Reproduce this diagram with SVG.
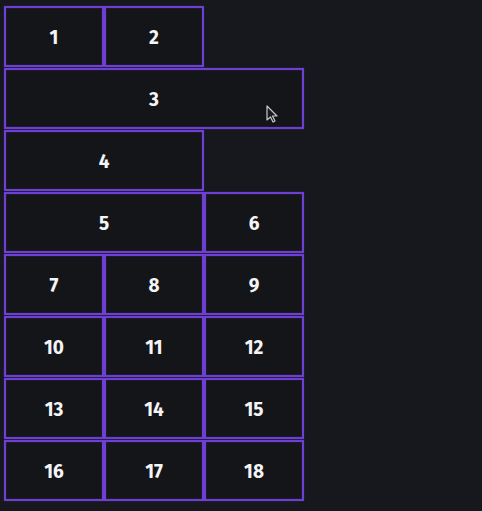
<svg xmlns="http://www.w3.org/2000/svg" width="482" height="511" viewBox="0 0 482 511">
<style>
.c rect{fill:#141519;stroke:#6d3fd2;stroke-width:2.2}
.c text{fill:#f4f4f6;font-family:"Fira Sans","Open Sans","DejaVu Sans",sans-serif;font-weight:700;font-size:19px;text-anchor:middle;dominant-baseline:central}
</style>
<rect width="482" height="511" fill="#17181d"/>
<g class="c">
<g id="n1"><rect x="5" y="7" width="98" height="59"/><text x="54" y="37">1</text></g>
<g id="n2"><rect x="105" y="7" width="98" height="59"/><text x="154" y="37">2</text></g>
<g id="n3"><rect x="5" y="69" width="298" height="59"/><text x="154" y="99">3</text></g>
<g id="n4"><rect x="5" y="131" width="198" height="59"/><text x="104" y="161">4</text></g>
<g id="n5"><rect x="5" y="193" width="198" height="59"/><text x="104" y="223">5</text></g>
<g id="n6"><rect x="205" y="193" width="98" height="59"/><text x="254" y="223">6</text></g>
<g id="n7"><rect x="5" y="255" width="98" height="59"/><text x="54" y="285">7</text></g>
<g id="n8"><rect x="105" y="255" width="98" height="59"/><text x="154" y="285">8</text></g>
<g id="n9"><rect x="205" y="255" width="98" height="59"/><text x="254" y="285">9</text></g>
<g id="n10"><rect x="5" y="317" width="98" height="59"/><text x="54" y="347">10</text></g>
<g id="n11"><rect x="105" y="317" width="98" height="59"/><text x="154" y="347">11</text></g>
<g id="n12"><rect x="205" y="317" width="98" height="59"/><text x="254" y="347">12</text></g>
<g id="n13"><rect x="5" y="379" width="98" height="59"/><text x="54" y="409">13</text></g>
<g id="n14"><rect x="105" y="379" width="98" height="59"/><text x="154" y="409">14</text></g>
<g id="n15"><rect x="205" y="379" width="98" height="59"/><text x="254" y="409">15</text></g>
<g id="n16"><rect x="5" y="441" width="98" height="59"/><text x="54" y="471">16</text></g>
<g id="n17"><rect x="105" y="441" width="98" height="59"/><text x="154" y="471">17</text></g>
<g id="n18"><rect x="205" y="441" width="98" height="59"/><text x="254" y="471">18</text></g>
</g>
<g id="connectors"></g>
<path d="M267,106 L267,120 L270.5,117 L273,122 L275,121 L272.5,116 L277,116 Z" fill="#1a1b20" stroke="#c8c8cc" stroke-width="1.2" stroke-linejoin="round"/>
</svg>
